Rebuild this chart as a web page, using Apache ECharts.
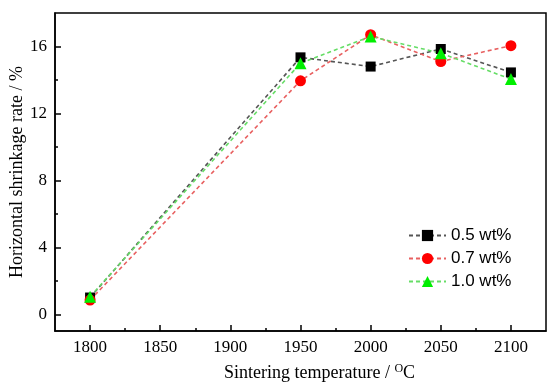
<!DOCTYPE html>
<html>
<head>
<meta charset="utf-8">
<script src="https://cdn.jsdelivr.net/npm/echarts@6/dist/echarts.min.js"></script>
<style>
  html, body { margin: 0; padding: 0; background: #fff; }
  #chart { width: 548px; height: 383px; }
</style>
</head>
<body>
<div id="chart"></div>
<script>
// sintering temperature (°C)
const temps = [1800, 1950, 2000, 2050, 2100]
// horizontal shrinkage rate (%)
const rate05 = [1.0, 15.35, 14.8, 15.85, 14.45]
const rate07 = [0.85, 13.95, 16.7, 15.1, 16.05]
const rate10 = [1.05, 15.0, 16.6, 15.6, 14.05]

const xTicks = [1800, 1850, 1900, 1950, 2000, 2050, 2100]
const xMinorTicks = [1825, 1875, 1925, 1975, 2025, 2075]
const yTicks = [0, 4, 8, 12, 16]
const yMinorTicks = [2, 6, 10, 14]

const serif = 'Liberation Serif'
const sans = 'Liberation Sans'

const toPairs = (ys) => temps.map((t, i) => [t, ys[i]])

const chart = echarts.init(document.getElementById('chart'))

const lineSeries = (name, data, symbol, size, itemColor, lineColor) => ({
  name,
  type: 'line',
  data: toPairs(data),
  xAxisIndex: 0,
  yAxisIndex: 0,
  symbol,
  symbolSize: size,
  itemStyle: {color: itemColor},
  lineStyle: {color: lineColor, width: 1.6, type: [4, 3]},
  emphasis: {disabled: true},
  animation: false
})

chart.setOption({
  animation: false,
  grid: {
    left: 55, right: 2, top: 13, bottom: 52,
    outerBoundsMode: 'none',
    containLabel: false,
    show: true,
    borderColor: '#000',
    borderWidth: 1.5
  },
  legend: {
    orient: 'vertical',
    left: 403,
    top: 222,
    itemWidth: 37,
    itemHeight: 14,
    itemGap: 6,
    textStyle: {fontFamily: sans, fontSize: 17, color: '#000'},
    data: ['0.5 wt%', '0.7 wt%', '1.0 wt%']
  },
  xAxis: [
    {
      type: 'value',
      min: 1775,
      max: 2125,
      position: 'bottom',
      name: 'Sintering temperature / {sup|O}C',
      nameLocation: 'middle',
      nameGap: 32,
      nameMoveOverlap: false,
      nameTextStyle: {
        fontFamily: serif, fontSize: 18, color: '#000',
        padding: [0, 0, 0, 38],
        rich: {sup: {fontFamily: serif, fontSize: 12, color: '#000', padding: [0, 0, 9, 0]}}
      },
      axisLine: {show: true, onZero: false, lineStyle: {color: '#000', width: 1.5}},
      axisTick: {show: true, inside: true, length: 6, customValues: xTicks, lineStyle: {color: '#000', width: 1.5}},
      axisLabel: {customValues: xTicks, margin: 8, fontFamily: serif, fontSize: 17, color: '#000', formatter: (v) => String(v)},
      splitLine: {show: false}
    },
    {
      type: 'value',
      min: 1775,
      max: 2125,
      position: 'bottom',
      axisLine: {show: false, onZero: false},
      axisTick: {show: true, inside: true, length: 3, customValues: xMinorTicks, lineStyle: {color: '#000', width: 1.5}},
      axisLabel: {show: false},
      splitLine: {show: false}
    }
  ],
  yAxis: [
    {
      type: 'value',
      min: -1,
      max: 18,
      position: 'left',
      name: 'Horizontal shrinkage rate / %',
      nameLocation: 'middle',
      nameGap: 29,
      nameMoveOverlap: false,
      nameTextStyle: {fontFamily: serif, fontSize: 18, color: '#000'},
      axisLine: {show: true, onZero: false, lineStyle: {color: '#000', width: 1.5}},
      axisTick: {show: true, inside: true, length: 6, customValues: yTicks, lineStyle: {color: '#000', width: 1.5}},
      axisLabel: {customValues: yTicks, margin: 8, fontFamily: serif, fontSize: 17, color: '#000'},
      splitLine: {show: false}
    },
    {
      type: 'value',
      min: -1,
      max: 18,
      position: 'left',
      axisLine: {show: false, onZero: false},
      axisTick: {show: true, inside: true, length: 3, customValues: yMinorTicks, lineStyle: {color: '#000', width: 1.5}},
      axisLabel: {show: false},
      splitLine: {show: false}
    }
  ],
  series: [
    lineSeries('0.5 wt%', rate05, 'rect', 10, '#000000', '#555555'),
    lineSeries('0.7 wt%', rate07, 'circle', 11, '#ff0000', '#e86060'),
    lineSeries('1.0 wt%', rate10, 'triangle', 12, '#00ee00', '#66dd66')
  ]
})
</script>
</body>
</html>
